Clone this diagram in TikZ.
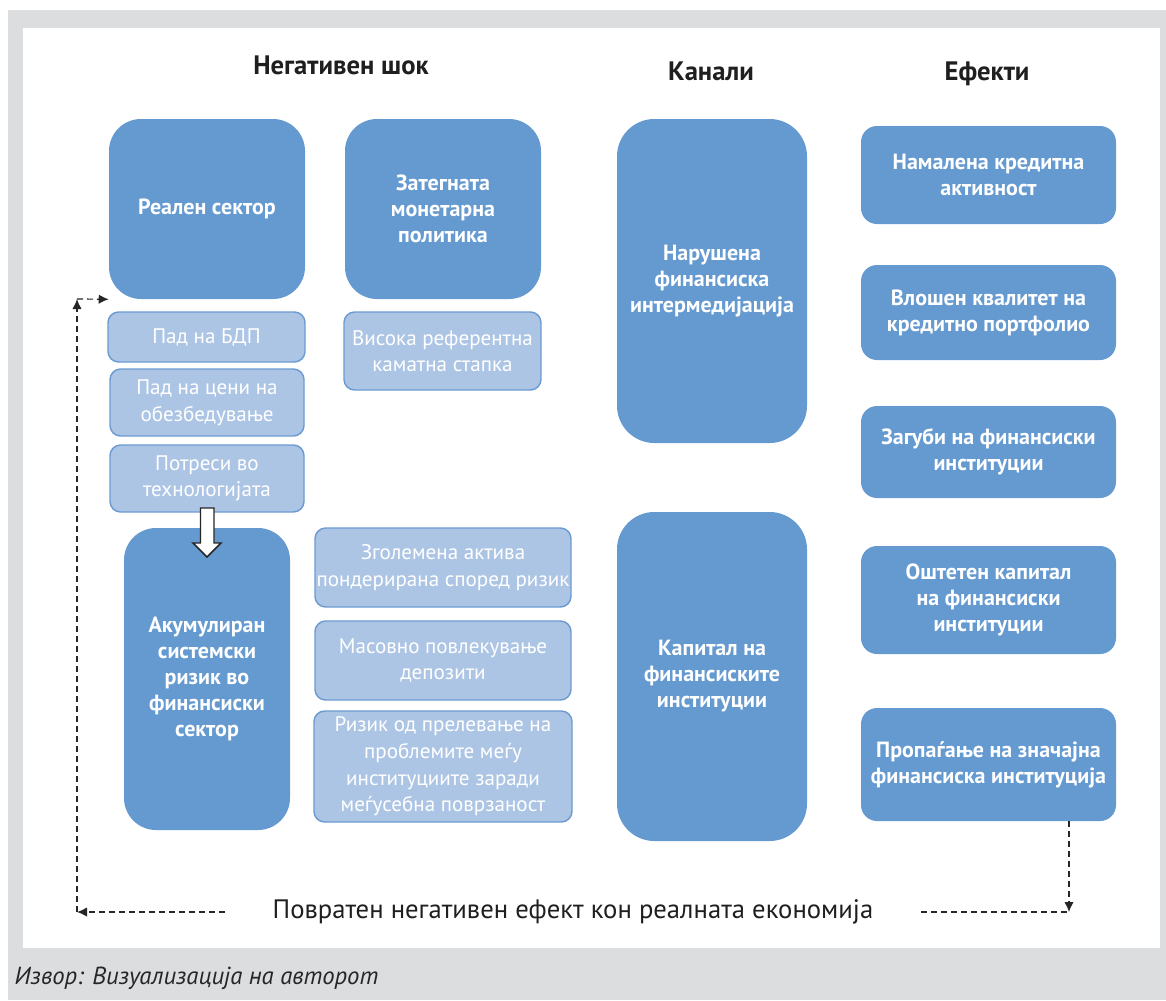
\documentclass[tikz,border=0pt]{standalone}
\usepackage{fontspec}
\setmainfont{PT Sans}
\usetikzlibrary{arrows.meta}
\definecolor{boxblue}{RGB}{101,154,209}
\definecolor{lightblue}{RGB}{173,197,229}
\definecolor{edgeblue}{RGB}{108,155,210}
\definecolor{framegray}{RGB}{220,221,223}

\begin{document}
\begin{tikzpicture}[x=0.75pt,y=0.75pt,yscale=-1,xscale=1,
  boxsize/.style 2 args={minimum width=#1*0.75pt,minimum height=#2*0.75pt},
  bigbox/.style={fill=boxblue,draw=none,text=white,align=center,inner sep=0pt,
    font=\fontsize{16.5}{19.5}\selectfont\bfseries,rounded corners=24pt},
  effbox/.style={bigbox,rounded corners=12pt},
  smallbox/.style={fill=lightblue,draw=edgeblue,line width=1.1pt,text=white,align=center,
    inner sep=0pt,font=\fontsize{15.8}{20}\selectfont,rounded corners=8pt},
  header/.style={font=\fontsize{20}{24}\selectfont\bfseries,text=black!88},
  dashline/.style={dash pattern=on 4.5pt off 3pt,line width=0.9pt,black!85},
  headarrow/.style={-{Latex[length=7.5pt,width=7pt]}}
]
\useasboundingbox (0,0) rectangle (1166,1000);

%Shape: Frame
\fill[framegray] (8,10) rectangle (1166,1000);
\fill[white] (23,28) rectangle (1160,948);

% Text Node
\node (shock) at (341,65) [header] {Негативен шок};
% Text Node
\node (channels) at (711,71) [header] {Канали};
% Text Node
\node (effects) at (987,74) [header] {Ефекти};

%Shape: Rounded Rect
\node (real) at (207,209) [bigbox,boxsize={196}{180}] {Реален сектор};
\node (monetary) at (443,209) [bigbox,boxsize={196}{180}] {Затегната\\монетарна\\политика};
\node (interm) at (712,281) [bigbox,boxsize={190}{324},rounded corners=28pt] {Нарушена\\финансиска\\интермедијација};
\node (capital) at (712,676.5) [bigbox,boxsize={190}{329},rounded corners=28pt] {Капитал на\\финансиските\\институции};
\node (accum) at (207,679) [bigbox,boxsize={166}{302}] {Акумулиран\\системски\\ризик во\\финансиски\\сектор};

%Shape: Rounded Rect
\node (credit) at (988.5,175) [effbox,boxsize={255}{98}] {Намалена кредитна\\активност};
\node (quality) at (988.5,312.5) [effbox,boxsize={255}{95}] {Влошен квалитет на\\кредитно портфолио};
\node (losses) at (988.5,452) [effbox,boxsize={255}{92}] {Загуби на финансиски\\институции};
\node (damaged) at (988.5,600) [effbox,boxsize={255}{108}] {Оштетен капитал\\на финансиски\\институции};
\node (failure) at (988.5,764.5) [effbox,boxsize={255}{113}] {Пропаѓање на значајна\\финансиска институција};

%Shape: Rounded Rect
\node (gdp) at (206.5,337) [smallbox,boxsize={197}{50}] {Пад на БДП};
\node (collateral) at (207,402.5) [smallbox,boxsize={194}{67}] {Пад на цени на\\обезбедување};
\node (tech) at (207,478.5) [smallbox,boxsize={194}{67}] {Потреси во\\технологијата};
\node (rate) at (442.5,351) [smallbox,boxsize={197}{78}] {Висока референтна\\каматна стапка};
\node (rwa) at (443,567.5) [smallbox,boxsize={256}{79}] {Зголемена актива\\пондерирана според ризик};
\node (runs) at (443,660.5) [smallbox,boxsize={256}{79}] {Масовно повлекување\\депозити};
\node (spill) at (443,766.5) [smallbox,boxsize={258}{111}] {Ризик од прелевање на\\проблемите меѓу\\институциите заради\\меѓусебна поврзаност};

%Shape: Block Arrow
\draw[fill=white,draw=black!85,line width=1.1pt] (200.5,508) -- (214,508) -- (214,543) -- (221,543) -- (207,557) -- (193,543) -- (200.5,543) -- cycle;

% Text Node
\node (feedback) at (573,912) [font=\fontsize{20}{24}\selectfont,text=black!88] {Повратен негативен ефект кон реалната економија};

%Straight Lines
\coordinate (feedL) at (225,912);
\coordinate (feedR) at (921,912);
\coordinate (lowleft) at (77,912);
\coordinate (upleft) at (77,299);
\coordinate (lowright) at (1069,912);
\draw[dashline,headarrow] (feedL) -- (lowleft);
\draw[dashline,headarrow] (lowleft) -- (upleft);
\draw[dashline,headarrow] (upleft) -- (real.south west);
\draw[dashline,headarrow] (failure.south -| lowright) -- (lowright);
\draw[dashline] (feedR) -- (lowright);

% Text Node
\node (source) at (10,978) [anchor=west,font=\fontsize{18.5}{22}\selectfont\itshape,text=black!85] {Извор: Визуализација на авторот};

\end{tikzpicture}
\end{document}
